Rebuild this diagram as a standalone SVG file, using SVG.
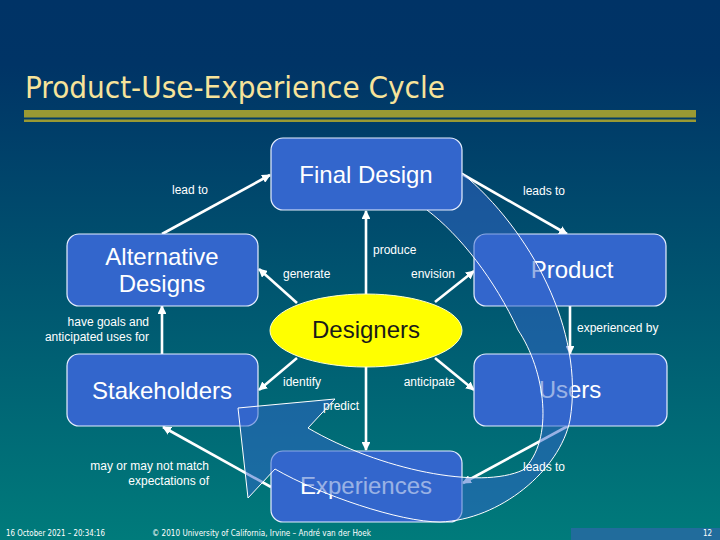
<svg xmlns="http://www.w3.org/2000/svg" width="720" height="540" viewBox="0 0 720 540">
<defs>
<linearGradient id="bg" x1="0" y1="0" x2="0" y2="1">
<stop offset="0" stop-color="#003366"/>
<stop offset="0.12" stop-color="#003466"/>
<stop offset="1" stop-color="#007B7B"/>
</linearGradient>
<marker id="arr" viewBox="0 0 10 10" refX="9" refY="5" markerWidth="3.4" markerHeight="3.4" orient="auto" markerUnits="strokeWidth">
<path d="M0,0 L10,5 L0,10 z" fill="#FFFFFF"/>
</marker>
<style>
.node{fill:#3366CC;stroke:#E6EEFF;stroke-width:1.2}
.nt{font-family:"Liberation Sans",Arial,sans-serif;font-size:24px;fill:#FFFFFF;text-anchor:middle}
.cl{stroke:#FFFFFF;stroke-width:2.6;fill:none;marker-end:url(#arr)}
.lb{font-family:"Liberation Sans",Arial,sans-serif;font-size:12px;fill:#FFFFFF}
.ft{font-family:"DejaVu Sans Condensed","DejaVu Sans",sans-serif;font-size:8px;fill:#FFFFFF}
</style>
</defs>
<rect x="0" y="0" width="720" height="540" fill="url(#bg)"/>
<text x="25" y="98" font-family="'DejaVu Sans Condensed','DejaVu Sans',sans-serif" font-size="30" fill="#F7E39A" textLength="420" lengthAdjust="spacingAndGlyphs">Product-Use-Experience Cycle</text>
<rect x="24" y="110" width="672" height="7.5" fill="#999933"/>
<rect x="24" y="119.5" width="672" height="2.5" fill="#999933"/>
<g id="connectors">
<line class="cl" x1="162" y1="234" x2="270" y2="175"/>
<line class="cl" x1="462" y1="174" x2="567" y2="234"/>
<line class="cl" x1="366" y1="294" x2="366" y2="211"/>
<line class="cl" x1="297" y1="303" x2="259" y2="269"/>
<line class="cl" x1="435" y1="302" x2="474" y2="271"/>
<line class="cl" x1="297" y1="358" x2="259" y2="390"/>
<line class="cl" x1="435" y1="358" x2="474" y2="390"/>
<line class="cl" x1="366" y1="367" x2="366" y2="450"/>
<line class="cl" x1="162" y1="354" x2="162" y2="306"/>
<line class="cl" x1="570" y1="306" x2="570" y2="354"/>
<line class="cl" x1="271" y1="487" x2="163" y2="427"/>
<line class="cl" x1="568" y1="426" x2="463" y2="483"/>
</g>
<g id="alternative-designs">
<rect class="node" x="67" y="234" width="191" height="72" rx="12"/>
<text class="nt" x="162" y="265">Alternative</text>
<text class="nt" x="162" y="292">Designs</text>
</g>
<g id="stakeholders">
<rect class="node" x="67" y="354" width="191" height="72" rx="12"/>
<text class="nt" x="162" y="399">Stakeholders</text>
</g>
<g id="product">
<rect class="node" x="474" y="234" width="192" height="72" rx="12"/>
<text class="nt" x="572" y="278">Product</text>
</g>
<g id="users">
<rect class="node" x="474" y="354" width="193" height="72" rx="12"/>
<text class="nt" x="570" y="398">Users</text>
</g>
<g id="experiences">
<rect class="node" x="271" y="451" width="191" height="71" rx="12"/>
<text class="nt" x="366" y="494">Experiences</text>
</g>
<g id="designers">
<ellipse cx="366" cy="330.5" rx="96" ry="36.5" fill="#FFFF00" stroke="#FFFFCC" stroke-width="1"/>
<text class="nt" x="366" y="338" fill="#1A1A1A" style="fill:#1A1A1A">Designers</text>
</g>
<g id="cycle-arrow">
<path d="M427,210 L462,173 C530,230 585,330 570,420 C560,470 500,520 440,522 C400,522 320,495 275,469 L248,498 L238,408 L335,399 L308,428 C380,470 480,490 523,470 C555,440 545,370 518,330 C495,280 460,235 427,210 Z" fill="#3366CC" fill-opacity="0.5" stroke="#FFFFFF" stroke-width="1"/>
</g>
<g id="final-design">
<rect class="node" x="271" y="138" width="191" height="72" rx="12"/>
<text class="nt" x="366" y="183">Final Design</text>
</g>
<g id="labels">
<text class="lb" x="190" y="194" text-anchor="middle">lead to</text>
<text class="lb" x="544" y="195" text-anchor="middle">leads to</text>
<text class="lb" x="373" y="254">produce</text>
<text class="lb" x="283" y="278">generate</text>
<text class="lb" x="455" y="278" text-anchor="end">envision</text>
<text class="lb" x="283" y="386">identify</text>
<text class="lb" x="455" y="386" text-anchor="end">anticipate</text>
<text class="lb" x="323" y="410">predict</text>
<text class="lb" x="149" y="326" text-anchor="end">have goals and</text>
<text class="lb" x="149" y="341" text-anchor="end">anticipated uses for</text>
<text class="lb" x="577" y="332">experienced by</text>
<text class="lb" x="209" y="470" text-anchor="end">may or may not match</text>
<text class="lb" x="209" y="485" text-anchor="end">expectations of</text>
<text class="lb" x="523" y="471">leads to</text>
</g>
<g id="footer">
<rect x="571" y="528" width="149" height="12" fill="#216C9C"/>
<text class="ft" x="6" y="536" textLength="99" lengthAdjust="spacingAndGlyphs">16 October 2021 – 20:34:16</text>
<text class="ft" x="152" y="536" textLength="219" lengthAdjust="spacingAndGlyphs">© 2010 University of California, Irvine – André van der Hoek</text>
<text class="ft" x="703" y="536">12</text>
</g>
</svg>
